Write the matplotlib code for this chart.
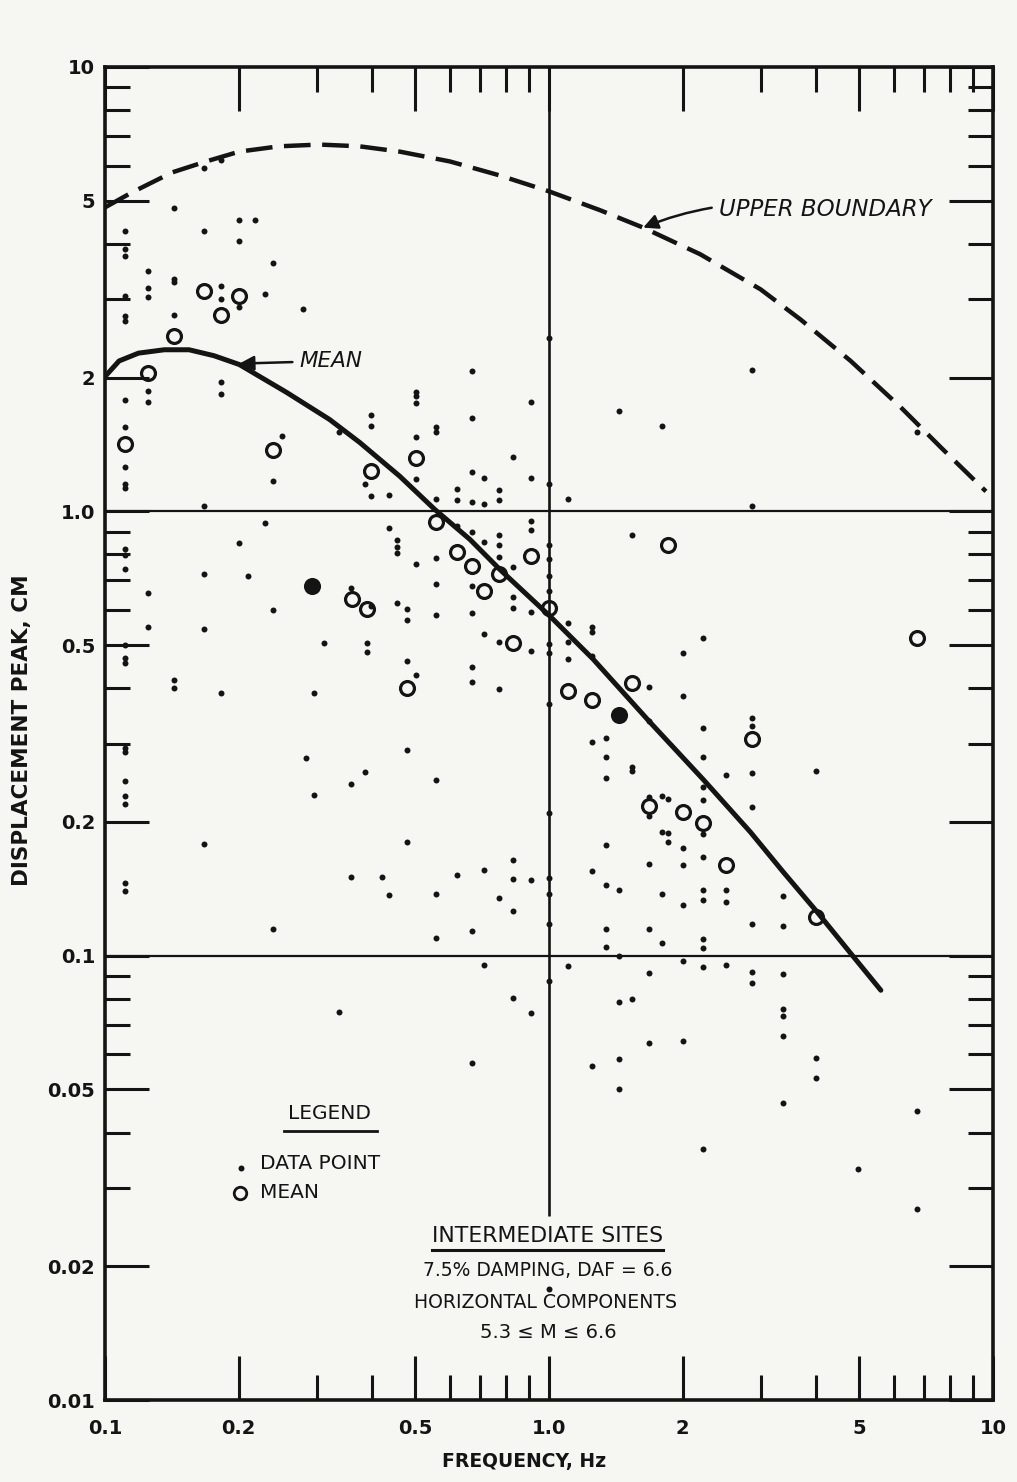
import matplotlib
matplotlib.use('Agg')
import matplotlib.pyplot as plt
from matplotlib.ticker import FixedLocator, FixedFormatter, NullFormatter
from matplotlib.lines import Line2D
import numpy as np

# ---- data ----
# scatter of individual spectra, grouped by frequency column
col_freq = [0.111, 0.125, 0.143, 0.167, 0.183, 0.200, 0.210, 0.218, 0.229, 0.239,
            0.251, 0.279, 0.283, 0.295, 0.312, 0.336, 0.359, 0.386, 0.389, 0.397,
            0.420, 0.437, 0.455, 0.479, 0.501, 0.556, 0.620, 0.670, 0.715, 0.771,
            0.829, 0.911, 1.0, 1.104, 1.25, 1.345, 1.44, 1.539, 1.68, 1.80,
            1.85, 2.0, 2.22, 2.51, 2.86, 3.36, 4.0, 4.96, 6.74]
col_disp = [
    [4.27, 3.89, 3.75, 3.05, 2.75, 2.68, 1.78, 1.55, 1.26, 1.15, 1.13, 0.821, 0.796,
     0.740, 0.499, 0.467, 0.455, 0.294, 0.287, 0.247, 0.229, 0.219, 0.146, 0.140],
    [3.47, 3.18, 3.03, 1.87, 1.76, 0.654, 0.548],
    [4.81, 3.34, 3.28, 2.76, 0.417, 0.400],
    [5.94, 4.27, 1.03, 0.722, 0.543, 0.178],
    [6.19, 3.21, 3.01, 1.95, 1.84, 0.390],
    [4.52, 4.05, 2.88, 0.847],
    [0.714],
    [4.52],
    [3.09, 0.940],
    [3.63, 1.168, 0.599, 0.115],
    [1.48],
    [2.86],
    [0.278],
    [0.390, 0.230],
    [0.505],
    [1.51, 0.0746],
    [0.244, 0.150, 0.671],
    [1.15, 0.259],
    [0.505, 0.482],
    [1.65, 1.56, 1.08, 0.611],
    [0.150],
    [1.086, 0.916, 0.137],
    [0.861, 0.830, 0.804, 0.621],
    [0.602, 0.569, 0.460, 0.291, 0.180],
    [1.86, 1.82, 1.75, 1.47, 1.18, 0.760, 0.428],
    [1.55, 1.51, 1.064, 0.784, 0.685, 0.583, 0.248, 0.1375, 0.1095],
    [1.121, 1.058, 0.925, 0.152],
    [2.065, 1.62, 1.224, 1.048, 0.897, 0.678, 0.590, 0.446, 0.412, 0.1135, 0.0573],
    [1.186, 1.037, 0.852, 0.529, 0.156, 0.0952],
    [1.115, 1.058, 0.883, 0.839, 0.788, 0.507, 0.398, 0.1347],
    [1.323, 0.748, 0.641, 0.605, 0.164, 0.1486, 0.126, 0.0802],
    [1.76, 1.186, 0.949, 0.906, 0.593, 0.484, 0.148, 0.0743],
    [2.45, 1.15, 0.839, 0.780, 0.714, 0.661, 0.502, 0.479, 0.368, 0.210, 0.1494,
     0.138, 0.1177, 0.0877, 0.0178],
    [1.064, 0.560, 0.507, 0.465, 0.0947],
    [0.548, 0.534, 0.472, 0.302, 0.155, 0.0564],
    [0.3086, 0.280, 0.2507, 0.1773, 0.144, 0.1147, 0.1045],
    [1.679, 0.1404, 0.0997, 0.0786, 0.0585, 0.0501],
    [0.883, 0.2655, 0.260, 0.0798],
    [0.402, 0.337, 0.2274, 0.206, 0.1607, 0.1147, 0.0914, 0.0636],
    [1.56, 0.229, 0.1897, 0.138, 0.107],
    [0.225, 0.189, 0.180],
    [0.479, 0.3835, 0.1745, 0.160, 0.130, 0.0973, 0.0642],
    [0.518, 0.325, 0.280, 0.2394, 0.2237, 0.1877, 0.1665, 0.1404, 0.1333, 0.1089,
     0.104, 0.0942, 0.0367],
    [0.2547, 0.1404, 0.132, 0.0952],
    [2.08, 1.03, 0.342, 0.328, 0.2574, 0.216, 0.1177, 0.0918, 0.0867],
    [0.136, 0.1165, 0.0908, 0.0758, 0.0731, 0.0659, 0.0466],
    [0.260, 0.0588, 0.0530],
    [0.0331],
    [1.51, 0.0447, 0.0269],
]

# means (open circles), two are drawn filled on the original
mean_freq = [0.111, 0.125, 0.143, 0.167, 0.183, 0.200, 0.239, 0.361, 0.389, 0.397,
             0.479, 0.501, 0.556, 0.620, 0.670, 0.715, 0.771, 0.829, 0.911, 1.0,
             1.104, 1.25, 1.539, 1.68, 1.856, 2.0, 2.22, 2.51, 2.86, 4.0, 6.74]
mean_disp = [1.415, 2.05, 2.48, 3.14, 2.77, 3.06, 1.371, 0.634, 0.602, 1.23,
             0.400, 1.316, 0.945, 0.809, 0.752, 0.661, 0.722, 0.505, 0.792, 0.605,
             0.394, 0.376, 0.410, 0.217, 0.839, 0.211, 0.199, 0.160, 0.307, 0.122, 0.518]
mean_filled_freq = [0.293, 1.44]
mean_filled_disp = [0.678, 0.348]

# mean curve (solid)
curve_freq = [0.1, 0.1076, 0.119, 0.136, 0.1547, 0.176, 0.2007, 0.2563, 0.3204,
              0.3744, 0.461, 0.553, 0.6633, 0.775, 1.005, 1.257, 1.69, 2.227, 2.843,
              3.375, 4.02, 4.86, 5.59]
curve_disp = [2.01, 2.18, 2.27, 2.31, 2.31, 2.24, 2.14, 1.853, 1.61,
              1.43, 1.20, 1.01, 0.865, 0.740, 0.581, 0.465, 0.335, 0.249, 0.1897,
              0.154, 0.1253, 0.0992, 0.0836]

# upper boundary (dashed)
upper_freq = [0.1, 0.115, 0.1416, 0.169, 0.2007, 0.247, 0.304, 0.374, 0.461, 0.598,
              0.775, 1.0, 1.304, 1.63, 2.19, 2.995, 3.69, 4.78, 6.20, 7.63, 9.64]
upper_disp = [4.83, 5.22, 5.79, 6.13, 6.45, 6.63, 6.69, 6.63, 6.45, 6.13,
              5.70, 5.25, 4.76, 4.35, 3.79, 3.16, 2.70, 2.18, 1.714, 1.393, 1.109]

x_major = [0.1, 0.2, 0.5, 1.0, 2, 5, 10]
x_labels = ['0.1', '0.2', '0.5', '1.0', '2', '5', '10']
y_major = [0.01, 0.02, 0.05, 0.1, 0.2, 0.5, 1.0, 2, 5, 10]
y_labels = ['0.01', '0.02', '0.05', '0.1', '0.2', '0.5', '1.0', '2', '5', '10']
minor_mult = [3, 4, 6, 7, 8, 9]

INK = '#141414'
PAPER = '#f6f6f3'

fig = plt.figure(figsize=(10.17, 14.82), dpi=100, facecolor=PAPER)
ax = fig.add_axes([0.1032, 0.0553, 0.8732, 0.8995], facecolor=PAPER)
ax.set_xscale('log')
ax.set_yscale('log')
ax.set_xlim(0.1, 10)
ax.set_ylim(0.01, 10)

# reference lines
ax.axhline(1.0, color=INK, lw=1.6, zorder=1)
ax.axhline(0.1, color=INK, lw=1.6, zorder=1)
ax.vlines(1.0, 0.026, 10, color=INK, lw=1.9, zorder=1)

# scatter
dot_x = np.concatenate([[f] * len(d) for f, d in zip(col_freq, col_disp)])
dot_y = np.concatenate(col_disp)
ax.plot(dot_x, dot_y, 'o', ms=4.3, color=INK, mec='none', zorder=3)

ax.plot(mean_freq, mean_disp, 'o', ms=10, mfc='none', mec=INK, mew=2.3, zorder=4)
ax.plot(mean_filled_freq, mean_filled_disp, 'o', ms=10, mfc=INK, mec=INK, mew=2.3, zorder=4)

ax.plot(curve_freq, curve_disp, '-', color=INK, lw=3.6, solid_capstyle='round',
        solid_joinstyle='round', zorder=2)
ax.plot(upper_freq, upper_disp, color=INK, lw=3.2, dashes=(6, 2.6), zorder=2)

# ticks
minor_x = [m * d for d in (0.1, 1) for m in minor_mult]
minor_y = [m * d for d in (0.01, 0.1, 1) for m in minor_mult]
ax.xaxis.set_major_locator(FixedLocator(x_major))
ax.xaxis.set_major_formatter(FixedFormatter(x_labels))
ax.xaxis.set_minor_locator(FixedLocator(minor_x))
ax.xaxis.set_minor_formatter(NullFormatter())
ax.yaxis.set_major_locator(FixedLocator(y_major))
ax.yaxis.set_major_formatter(FixedFormatter(y_labels))
ax.yaxis.set_minor_locator(FixedLocator(minor_y))
ax.yaxis.set_minor_formatter(NullFormatter())

ax.tick_params(which='both', direction='in', top=True, right=True, width=2.2, color=INK)
ax.tick_params(which='major', length=32, labelsize=14, labelcolor=INK)
ax.tick_params(axis='x', which='major', pad=14)
ax.tick_params(axis='y', which='major', pad=7)
ax.tick_params(which='minor', length=18)
for lab in ax.get_xticklabels() + ax.get_yticklabels():
    lab.set_fontweight('bold')
for sp in ax.spines.values():
    sp.set_linewidth(2.6)
    sp.set_color(INK)

# axis titles
fig.text(524 / 1017, 1 - 1462 / 1482, 'FREQUENCY, Hz', ha='center', va='center',
         fontsize=13.5, fontweight='bold', color=INK)
fig.text(22 / 1017, 1 - 730 / 1482, 'DISPLACEMENT PEAK, CM', ha='center', va='center',
         rotation=90, fontsize=15.5, fontweight='bold', color=INK)

# curve labels
ax.annotate('MEAN', xy=(0.2007, 2.15), xytext=(0.274, 2.18), va='center', ha='left',
            fontsize=15.5, style='italic', color=INK,
            arrowprops=dict(arrowstyle='-|>', color=INK, lw=1.8, mutation_scale=22,
                            shrinkA=3, shrinkB=0))
ax.annotate('UPPER BOUNDARY', xy=(1.63, 4.35), xytext=(2.41, 4.78), va='center', ha='left',
            fontsize=16.5, style='italic', color=INK,
            arrowprops=dict(arrowstyle='-|>', color=INK, lw=1.8, mutation_scale=22,
                            shrinkA=3, shrinkB=0, connectionstyle='arc3,rad=0.15'))

# legend block
tr = ax.transAxes
ax.text(0.2534, 0.2153, 'LEGEND', transform=tr, ha='center', va='center', fontsize=14.5, color=INK)
ax.add_line(Line2D([0.2016, 0.3063], [0.2018, 0.2018], transform=tr, color=INK, lw=2))
ax.plot([0.1532], [0.174], 'o', ms=4.3, color=INK, mec='none', transform=tr, clip_on=False)
ax.text(0.1745, 0.1778, 'DATA POINT', transform=tr, ha='left', va='center', fontsize=14.5, color=INK)
ax.plot([0.152], [0.1553], 'o', ms=9, mfc='none', mec=INK, mew=2, transform=tr, clip_on=False)
ax.text(0.1745, 0.156, 'MEAN', transform=tr, ha='left', va='center', fontsize=14.5, color=INK)

# site description block
ax.text(0.4989, 0.1230, 'INTERMEDIATE SITES', transform=tr, ha='center', va='center',
        fontsize=15.8, color=INK)
ax.add_line(Line2D([0.368, 0.628], [0.1125, 0.1125], transform=tr, color=INK, lw=2.2))
ax.text(0.4989, 0.0975, '7.5% DAMPING, DAF = 6.6', transform=tr, ha='center', va='center',
        fontsize=13.5, color=INK)
ax.text(0.4966, 0.0728, 'HORIZONTAL COMPONENTS', transform=tr, ha='center', va='center',
        fontsize=13.6, color=INK)
ax.text(0.4989, 0.0503, '5.3 \u2264 M \u2264 6.6', transform=tr, ha='center', va='center',
        fontsize=14, color=INK)

fig.savefig('out.png', dpi=100, facecolor=PAPER)
